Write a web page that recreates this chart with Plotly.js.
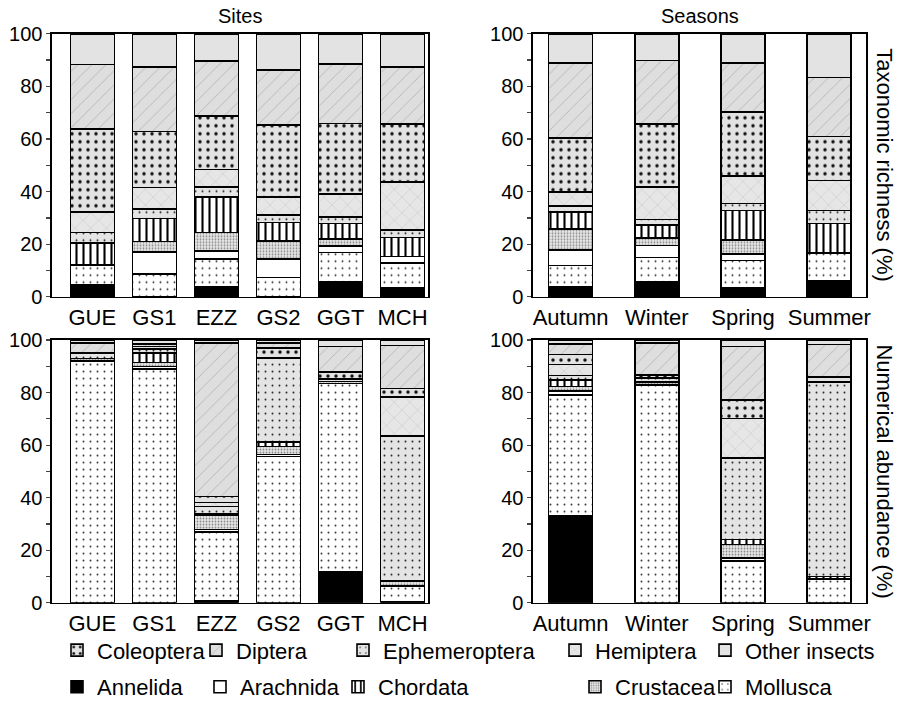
<!DOCTYPE html>
<html>
<head>
<meta charset="utf-8">
<script src="https://cdn.plot.ly/plotly-3.0.1.min.js"></script>
<style>html,body{margin:0;padding:0;background:#fff;}#chart{width:905px;height:708px;}</style>
</head>
<body>
<div id="chart"></div>
<script>
// Categories
const sites = ["GUE", "GS1", "EZZ", "GS2", "GGT", "MCH"];
const seasons = ["Autumn", "Winter", "Spring", "Summer"];
// Taxa in stacking order (bottom to top)
const taxa = ["Annelida", "Mollusca", "Arachnida", "Crustacea", "Chordata",
              "Ephemeroptera", "Hemiptera", "Coleoptera", "Diptera", "Other insects"];

// Taxonomic richness (%) per site, values in taxa order
const richGUE = [4.6, 7.6, 0, 0, 8.2, 4.1, 7.8, 31.5, 24.5, 11.7];
const richGS1 = [0, 8.7, 8.3, 4.0, 8.8, 3.5, 8.2, 21.4, 24.5, 12.6];
const richEZZ = [4.0, 10.3, 3.2, 7.0, 13.5, 3.8, 6.6, 20.4, 20.8, 10.4];
const richGS2 = [0, 7.4, 6.9, 7.0, 7.0, 2.8, 6.9, 27.4, 20.8, 13.8];
const richGGT = [5.7, 11.2, 2.5, 2.6, 5.9, 2.5, 8.6, 26.9, 22.7, 11.4];
const richMCH = [3.4, 9.4, 2.6, 0, 7.1, 2.9, 18.3, 22.0, 21.6, 12.7];
// Taxonomic richness (%) per season
const richAutumn = [3.7, 8.3, 5.9, 7.9, 6.5, 2.3, 5.3, 20.4, 28.6, 11.1];
const richWinter = [5.7, 9.3, 4.5, 2.8, 5.0, 2.1, 12.4, 23.9, 24.2, 10.1];
const richSpring = [3.4, 10.4, 2.4, 5.4, 11.3, 2.6, 10.4, 24.4, 18.6, 11.1];
const richSummer = [6.2, 10.4, 0, 0, 11.3, 5.0, 11.4, 16.7, 22.3, 16.7];
// Numerical abundance (%) per site
const abunGUE = [0, 92.0, 0, 1.0, 0, 2.0, 0, 0, 3.8, 1.2];
const abunGS1 = [0, 89.0, 1.0, 1.5, 3.5, 1.5, 0, 1.0, 1.0, 1.5];
const abunEZZ = [0.8, 26.1, 1.0, 5.6, 0.5, 2.7, 1.5, 2.3, 58.3, 1.2];
const abunGS2 = [0, 55.6, 0.9, 3.0, 1.8, 31.9, 0, 3.8, 1.8, 1.2];
const abunGGT = [11.7, 71.7, 0, 0.8, 0, 1.0, 0, 2.6, 9.8, 2.4];
const abunMCH = [0.5, 5.9, 0, 1.9, 0, 55.1, 14.9, 3.2, 16.4, 2.1];
// Numerical abundance (%) per season
const abunAutumn = [33.2, 45.8, 1.6, 1.8, 2.5, 1.6, 4.2, 3.8, 4.0, 1.5];
const abunWinter = [0, 83.0, 0, 1.0, 0, 1.5, 0, 1.2, 12.3, 1.0];
const abunSpring = [0, 15.9, 1.2, 5.1, 1.9, 31.1, 14.9, 7.2, 20.2, 2.5];
const abunSummer = [0, 9.0, 0, 0, 1.0, 74.0, 0, 2.0, 12.3, 1.7];

const yTicks = [0, 10, 20, 30, 40, 50, 60, 70, 80, 90, 100];
const yTickText = ["0", "", "20", "", "40", "", "60", "", "80", "", "100"];

// Styles per taxon
const styles = {
  "Annelida":      {color: "#000000"},
  "Mollusca":      {color: "#ffffff", pattern: {shape: ".", bgcolor: "#ffffff", fgcolor: "#333333", size: 7, solidity: 0.06, fillmode: "replace"}},
  "Arachnida":     {color: "#ffffff"},
  "Crustacea":     {color: "#dddddd", pattern: {shape: ".", bgcolor: "#e8e8e8", fgcolor: "#888888", size: 3, solidity: 0.3, fillmode: "replace"}},
  "Chordata":      {color: "#ffffff", pattern: {shape: "|", bgcolor: "#ffffff", fgcolor: "#000000", size: 7, solidity: 0.3, fillmode: "replace"}},
  "Ephemeroptera": {color: "#e4e4e4", pattern: {shape: ".", bgcolor: "#e4e4e4", fgcolor: "#222222", size: 7, solidity: 0.06, fillmode: "replace"}},
  "Hemiptera":     {color: "#e4e4e4", pattern: {shape: "x", bgcolor: "#e6e6e6", fgcolor: "#bbbbbb", size: 11, solidity: 0.07, fillmode: "replace"}},
  "Coleoptera":    {color: "#e0e0e0", pattern: {shape: ".", bgcolor: "#e2e2e2", fgcolor: "#111111", size: 8, solidity: 0.15, fillmode: "replace"}},
  "Diptera":       {color: "#dedede", pattern: {shape: "/", bgcolor: "#dedede", fgcolor: "#aaaaaa", size: 10, solidity: 0.07, fillmode: "replace"}},
  "Other insects": {color: "#e3e3e3"}
};

// Legend placement (one legend per entry, to match the reference grid)
const legendSlots = {
  "Coleoptera":    {x: 57,  row: 0},
  "Diptera":       {x: 196, row: 0},
  "Ephemeroptera": {x: 343, row: 0},
  "Hemiptera":     {x: 555, row: 0},
  "Other insects": {x: 705, row: 0},
  "Annelida":      {x: 57,  row: 1},
  "Arachnida":     {x: 200, row: 1},
  "Chordata":      {x: 338, row: 1},
  "Crustacea":     {x: 575, row: 1},
  "Mollusca":      {x: 705, row: 1}
};

const W = 905, H = 708;
const panels = [
  {cats: sites,   cols: [richGUE, richGS1, richEZZ, richGS2, richGGT, richMCH], xa: "x",  ya: "y",  width: 0.71},
  {cats: seasons, cols: [richAutumn, richWinter, richSpring, richSummer],      xa: "x2", ya: "y2", width: 0.51},
  {cats: sites,   cols: [abunGUE, abunGS1, abunEZZ, abunGS2, abunGGT, abunMCH], xa: "x3", ya: "y3", width: 0.71},
  {cats: seasons, cols: [abunAutumn, abunWinter, abunSpring, abunSummer],      xa: "x4", ya: "y4", width: 0.51}
];

const traces = [];
const layoutLegends = {};
taxa.forEach((t, ti) => {
  const st = styles[t];
  const legName = ti === 0 ? "legend" : "legend" + (ti + 1);
  panels.forEach((p, pi) => {
    const marker = {color: st.color, line: {color: "#000000", width: 1.6}};
    if (st.pattern) marker.pattern = st.pattern;
    traces.push({
      type: "bar",
      name: t,
      x: p.cats,
      y: p.cols.map(c => c[ti]),
      xaxis: p.xa,
      yaxis: p.ya,
      width: p.width,
      marker: marker,
      showlegend: pi === 0,
      legend: legName,
      hoverinfo: "skip"
    });
  });
  const slot = legendSlots[t];
  layoutLegends[legName] = {
    x: slot.x / W,
    y: slot.row === 0 ? 1 - 655 / H : 1 - 692 / H,
    xanchor: "left",
    yanchor: "middle",
    orientation: "h",
    bgcolor: "rgba(0,0,0,0)",
    borderwidth: 0,
    font: {family: "Liberation Sans, Arial, sans-serif", size: 22, color: "#000"},
    itemclick: false,
    itemdoubleclick: false
  };
});

const font = {family: "Liberation Sans, Arial, sans-serif", size: 20, color: "#000"};
const xFont = {family: "Liberation Sans, Arial, sans-serif", size: 22, color: "#000"};
const titleFont = {family: "Liberation Sans, Arial, sans-serif", size: 22, color: "#000"};
function xAxis(dom, cats, range, anchor) {
  return {
    domain: dom, anchor: anchor, type: "category", categoryarray: cats,
    range: range, showline: true, linecolor: "#000", linewidth: 1.6, mirror: true,
    ticks: "", showgrid: false, zeroline: false, tickfont: xFont, fixedrange: true
  };
}
function yAxis(dom, anchor) {
  return {
    domain: dom, anchor: anchor, range: [0, 100], tickmode: "array",
    tickvals: yTicks, ticktext: yTickText, ticks: "outside", ticklen: 4, tickwidth: 1.2,
    showline: true, linecolor: "#000", linewidth: 1.6, mirror: true,
    showgrid: false, zeroline: false, tickfont: font, fixedrange: true
  };
}

const xL = [52 / W, 428 / W], xR = [533 / W, 866 / W];
const yT = [1 - 299 / H, 1 - 34 / H], yB = [1 - 607 / H, 1 - 342.5 / H];

const layout = Object.assign({
  width: W, height: H,
  margin: {l: 0, r: 0, t: 0, b: 0},
  paper_bgcolor: "#fff", plot_bgcolor: "#fff",
  barmode: "stack",
  font: font,
  xaxis:  xAxis(xL, sites,   [-0.65, 5.41], "y"),
  yaxis:  yAxis(yT, "x"),
  xaxis2: xAxis(xR, seasons, [-0.436, 3.426], "y2"),
  yaxis2: yAxis(yT, "x2"),
  xaxis3: xAxis(xL, sites,   [-0.65, 5.41], "y3"),
  yaxis3: yAxis(yB, "x3"),
  xaxis4: xAxis(xR, seasons, [-0.436, 3.426], "y4"),
  yaxis4: yAxis(yB, "x4"),
  annotations: [
    {text: "Sites", xref: "paper", yref: "paper", x: (xL[0] + xL[1]) / 2, y: 1 - 16 / H, showarrow: false, font: font, xanchor: "center", yanchor: "middle"},
    {text: "Seasons", xref: "paper", yref: "paper", x: (xR[0] + xR[1]) / 2, y: 1 - 16 / H, showarrow: false, font: font, xanchor: "center", yanchor: "middle"},
    {text: "Taxonomic richness (%)", xref: "paper", yref: "paper", x: 885 / W, y: (yT[0] + yT[1]) / 2, textangle: 90, showarrow: false, font: titleFont, xanchor: "center", yanchor: "middle"},
    {text: "Numerical abundance (%)", xref: "paper", yref: "paper", x: 885 / W, y: (yB[0] + yB[1]) / 2, textangle: 90, showarrow: false, font: titleFont, xanchor: "center", yanchor: "middle"}
  ]
}, layoutLegends);

Plotly.newPlot("chart", traces, layout, {staticPlot: true, displayModeBar: false});
</script>
</body>
</html>
